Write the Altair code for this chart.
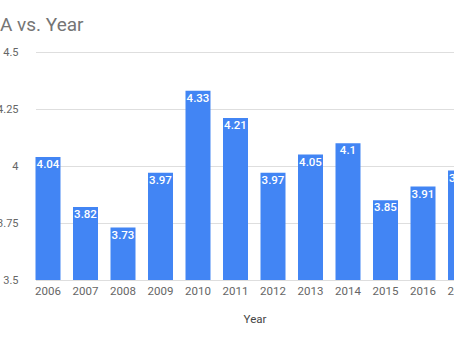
import altair as alt
import pandas as pd

years = ["2006", "2007", "2008", "2009", "2010", "2011", "2012", "2013", "2014", "2015", "2016", "2017"]
values = [4.04, 3.82, 3.73, 3.97, 4.33, 4.21, 3.97, 4.05, 4.1, 3.85, 3.91, 3.98]
y_ticks = [3.5, 3.75, 4, 4.25, 4.5]

df = pd.DataFrame({"Year": years, "Value": values})

x = alt.X("Year:N", sort=years,
          scale=alt.Scale(domain=years, range=[12.5, 450], paddingInner=1/3, paddingOuter=0),
          axis=alt.Axis(title="Year", labelAngle=0, ticks=False, domain=False,
                        labelPadding=5, labelFontSize=11.5, labelColor="#666666",
                        labelFont="Roboto", titleFont="Roboto", titleFontSize=11.5,
                        titleFontWeight="normal", titleColor="#444444",
                        titleX=231.5, titleY=39, titleBaseline="middle",
                        titleAnchor="start", titleAlign="center"))
y = alt.Y("Value:Q",
          scale=alt.Scale(domain=[3.5, 4.5], zero=False, nice=False),
          axis=alt.Axis(title=None, values=y_ticks, format=".3~g", ticks=False, domain=False,
                        labelPadding=5, labelFontSize=11, labelColor="#666666",
                        labelFont="Roboto", gridColor="#dedede", gridWidth=1))

bars = alt.Chart(df).mark_bar(color="#4285F4", clip=True).encode(
    x=x, y=y, y2=alt.Y2(datum=3.5)
)
labels = alt.Chart(df).mark_text(color="white", baseline="top", dy=2, fontSize=11.5,
                                 font="Roboto", fontWeight=500, clip=True).encode(
    x=alt.X("Year:N", sort=years),
    y=alt.Y("Value:Q"),
    text=alt.Text("Value:Q", format=".3~g"),
)

chart = (bars + labels).properties(
    width=431, height=228,
    autosize=alt.AutoSizeParams(type="none"),
    padding={"left": 23, "top": 52, "right": 0, "bottom": 61},
    title=alt.TitleParams("A vs. Year", anchor="start", frame="group", dx=-23, dy=-7,
                          fontSize=19, font="Roboto", fontWeight="normal", color="#757575"),
).configure_view(stroke=None)

chart.save("out.html", embed_options={"renderer": "svg", "actions": False})
